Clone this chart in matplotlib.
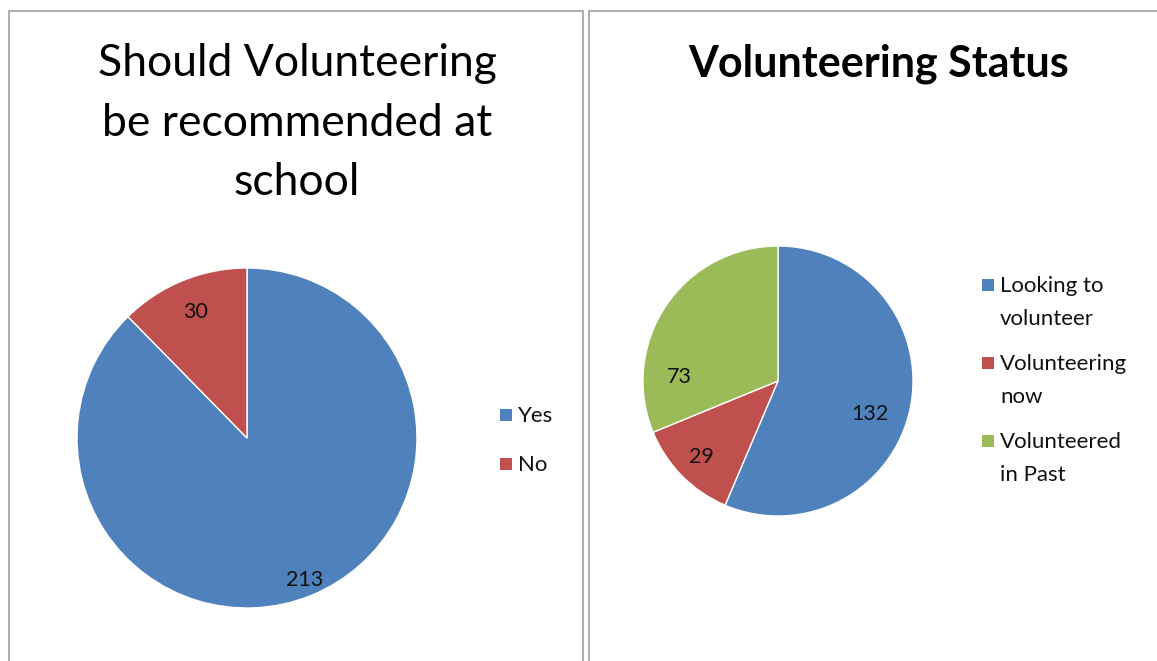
import matplotlib
matplotlib.use('Agg')
import matplotlib.pyplot as plt
import numpy as np
from matplotlib.patches import Rectangle

plt.rcParams['font.family'] = ['Lato', 'DejaVu Sans']

# data
school_labels = ['Yes', 'No']
school_values = [213, 30]
status_labels = ['Looking to\nvolunteer', 'Volunteering\nnow', 'Volunteered\nin Past']
status_values = [132, 29, 73]

blue = '#4F81BD'
red = '#C0504D'
green = '#9BBB59'

W, H = 1157, 661
fig = plt.figure(figsize=(W / 100, H / 100), dpi=100)
fig.patch.set_facecolor('white')


def px(x, y, w, h):
    # pixel box (from top-left) -> figure fraction
    return [x / W, (H - y - h) / H, w / W, h / H]


# panel frames
for x0, x1 in [(9, 583), (589, 1170)]:
    fig.patches.append(Rectangle((x0 / W, -0.1), (x1 - x0) / W, (H - 11) / H + 0.1,
                                 transform=fig.transFigure, fill=False,
                                 edgecolor='#A6A6A6', lw=1.3))


def draw_pie(box, values, colors, where):
    ax = fig.add_axes(px(*box))
    wedges, _ = ax.pie(values, colors=colors, startangle=90, counterclock=False,
                       wedgeprops=dict(edgecolor='white', linewidth=1.0))
    ax.set_xlim(-1, 1)
    ax.set_ylim(-1, 1)
    ax.set_aspect('equal')
    for w, v, (frac, dist) in zip(wedges, values, where):
        ang = np.deg2rad(w.theta1 + frac * (w.theta2 - w.theta1))
        ax.text(dist * np.cos(ang), dist * np.sin(ang), str(v),
                ha='center', va='center', fontsize=15.5, color='#111111')
    return ax, wedges


def draw_legend(x, baselines, labels, colors):
    for yb, lab, c in zip(baselines, labels, colors):
        fig.patches.append(Rectangle((x / W, (H - yb + 1) / H), 12 / W, 12 / H,
                                     transform=fig.transFigure, facecolor=c,
                                     edgecolor='none'))
        for i, line in enumerate(lab.split('\n')):
            fig.text((x + 18) / W, 1 - (yb + 33 * i) / H, line, ha='left',
                     va='baseline', fontsize=16, color='#111111')


# left chart
ax1, w1 = draw_pie((77, 268, 340, 340), school_values, [blue, red],
                   [(0.5, 0.9), (0.5, 0.8)])
fig.text(297 / W, 1 - 123 / H, 'Should Volunteering\nbe recommended at\nschool',
         ha='center', va='center', fontsize=32, linespacing=1.55)
draw_legend(500, [422, 471], school_labels, [blue, red])

# right chart
ax2, w2 = draw_pie((643, 246, 270, 270), status_values, [blue, red, green],
                   [(0.46, 0.72), (0.5, 0.8), (0.78, 0.73)])
fig.text(879 / W, 1 - 64 / H, 'Volunteering Status', ha='center', va='center',
         fontsize=31, fontweight='bold')
draw_legend(982, [292, 370, 448], status_labels, [blue, red, green])

plt.savefig('out.png', dpi=100)
